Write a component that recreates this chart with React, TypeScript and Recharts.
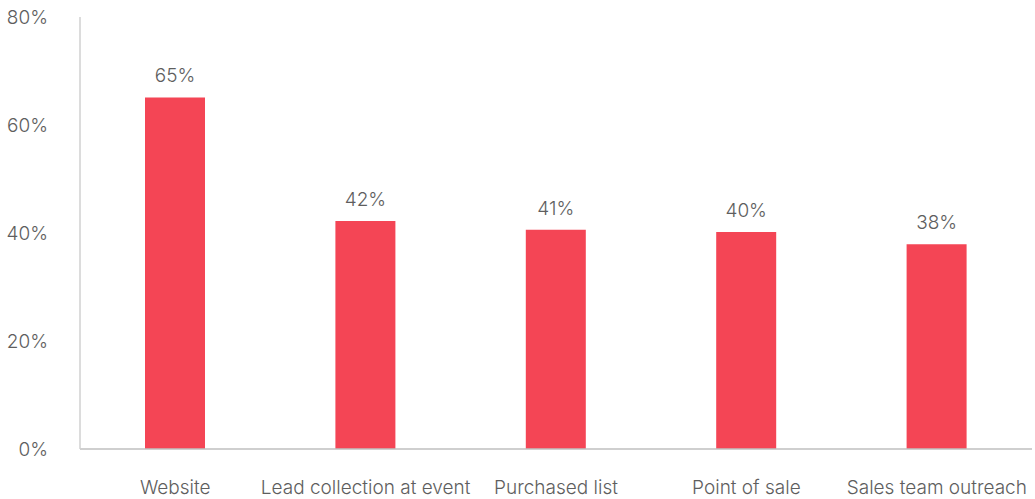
import { BarChart, Bar, XAxis, YAxis, LabelList } from 'recharts'

const categories = ['Website', 'Lead collection at event', 'Purchased list', 'Point of sale', 'Sales team outreach']
const shares = [65.1, 42.2, 40.6, 40.2, 37.9]
const yTicks = [0, 20, 40, 60, 80]

const data = categories.map((name, i) => ({ name, value: shares[i] }))

const font = 'Inter, sans-serif'
const textStyle = { fill: '#5E5E5E', fontSize: 19, fontFamily: font, fontWeight: 300 }

export default function App() {
  return (
    <div style={{ position: 'absolute', left: 0, top: 0, background: '#fff' }}>
      <BarChart width={1035} height={499} data={data} margin={{ top: 17, right: 3, bottom: 0, left: 0 }}>
        <XAxis
          dataKey="name"
          height={50}
          tickLine={false}
          tickSize={0}
          tickMargin={32}
          axisLine={{ stroke: '#BFBFBF', strokeWidth: 1.5 }}
          tick={textStyle}
          interval={0}
        />
        <YAxis
          width={80}
          domain={[0, 80]}
          ticks={yTicks}
          tickLine={false}
          tickSize={0}
          tickMargin={32}
          axisLine={{ stroke: '#D0D0D0', strokeWidth: 1.5 }}
          tickFormatter={(v) => `${v}%`}
          tick={textStyle}
        />
        <Bar dataKey="value" fill="#F44555" barSize={60} isAnimationActive={false}>
          <LabelList
            dataKey="value"
            position="top"
            offset={15}
            formatter={(v: any) => `${Math.round(Number(v))}%`}
            style={textStyle}
          />
        </Bar>
      </BarChart>
    </div>
  )
}
